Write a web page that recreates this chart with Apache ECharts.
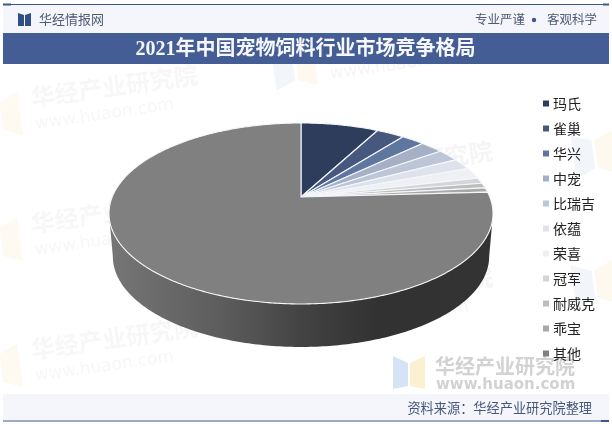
<!DOCTYPE html>
<html><head><meta charset="utf-8">
<style>html,body{margin:0;padding:0;background:#fff}#c{width:612px;height:425px}</style>
<script src="https://cdn.jsdelivr.net/npm/echarts@6/dist/echarts.min.js"></script>
</head><body><div id="c"></div>
<script>
const brands = ['玛氏','雀巢','华兴','中宠','比瑞吉','依蕴','荣喜','冠军','耐威克','乖宝','其他'];
const shares = [7.8,2.8,2.3,2.3,2.2,2.0,2.0,1.0,0.9,0.8,75.9];
const colors = ['#2f3d5c','#47587f','#5f769f','#a5b0c6','#bcc6d7','#dde2ec','#eef0f3','#d3d5d8','#bdbdbd','#a8a8a8','#808080'];
const titleText = '2021年中国宠物饲料行业市场竞争格局';
const sourceText = '资料来源：华经产业研究院整理';

const chart = echarts.init(document.getElementById('c'), null, {renderer:'canvas'});
const total = shares.reduce((a,b)=>a+b,0);
// perspective disc projection
const P = {cx:301, cy:197, A:188.8, B:87.5, k:0.182, depth:43, shrink:0.98};
function rim(theta, lower){
  const u=Math.sin(theta), v=-Math.cos(theta), w=1-P.k*v;
  const s=lower?P.shrink:1, d=lower?P.depth:0;
  return [P.cx+s*P.A*u/w, P.cy+P.B*v/w+d];
}
function toAngle(x){return x/total*2*Math.PI;}
function renderSlice(params, api){
  const a0=toAngle(api.value(0)), a1=toAngle(api.value(0)+api.value(1));
  const pts=[[P.cx,P.cy]], n=Math.max(4,Math.ceil((a1-a0)/0.01));
  for(let i=0;i<=n;i++) pts.push(rim(a0+(a1-a0)*i/n,false));
  return {type:'polygon',shape:{points:pts},
    style:{fill:api.visual('color'),stroke:'#f4f6fa',lineWidth:1.1,lineJoin:'round'}};
}
function renderWall(params, api){
  const t0=Math.acos(-P.k), t1=2*Math.PI-t0, n=200, pts=[];
  for(let i=0;i<=n;i++) pts.push(rim(t0+(t1-t0)*i/n,true));
  for(let i=n;i>=0;i--) pts.push(rim(t0+(t1-t0)*i/n,false));
  return {type:'polygon',shape:{points:pts},style:{
    fill:new echarts.graphic.LinearGradient(0,0,1,0,[
      {offset:0,color:'#767676'},{offset:0.3,color:'#5c5c5c'},{offset:0.5,color:'#434343'},
      {offset:0.7,color:'#323232'},{offset:1,color:'#333333'}])}};
}
let cum=0;
const series=[{type:'custom',name:'wall',coordinateSystem:'none',silent:true,z:2,data:[[0,0]],renderItem:renderWall,animation:false}];
brands.forEach((b,i)=>{
  series.push({type:'custom',name:b,coordinateSystem:'none',z:3,silent:true,animation:false,
    itemStyle:{color:colors[i]},data:[[cum,shares[i]]],renderItem:renderSlice});
  cum+=shares[i];
});
function tile(x,y,op){
  const r=8*Math.PI/180;
  return {type:'group',x:x,y:y,rotation:r,silent:true,children:[
    {type:'polygon',shape:{points:[[-52,-22],[-32,-14],[-32,14],[-52,22]]},style:{fill:'#dfe8f6',opacity:op}},
    {type:'polygon',shape:{points:[[-29,-14],[-10,-22],[-10,22],[-29,14]]},style:{fill:'#fbf0d4',opacity:op}},
    {type:'text',x:3,y:-14,style:{text:'华经产业研究院',font:'bold 24px "Noto Sans CJK SC"',fill:'#e6e6e6',opacity:op,textVerticalAlign:'middle'}},
    {type:'text',x:3,y:13,style:{text:'www.huaon.com',font:'17px "DejaVu Sans"',fill:'#e6e6e6',opacity:op,textVerticalAlign:'middle'}}
  ]};
}
const bookL=[[18,13],[24,15],[24,26],[18,26]], bookR=[[31,13],[25,15],[25,26],[31,26]];
const graphic=[
  {type:'rect',shape:{x:0,y:0,width:612,height:425},style:{fill:'#ffffff'},silent:true},
  tile(30,112,.3),tile(30,238,.3),tile(30,364,.3),
  tile(325,62,.4),tile(325,188,.4),tile(325,314,.4),
  tile(625,150,.4),tile(625,280,.4),
  // strong watermark
  {type:'polygon',shape:{points:[[393,356],[408,363],[408,386],[393,389]]},style:{fill:'#d6e3f4'}},
  {type:'polygon',shape:{points:[[410,363],[425,356],[425,389],[410,386]]},style:{fill:'#fbf0d0'}},
  {type:'text',x:435,y:366,style:{text:'华经产业研究院',font:'bold 20px "Noto Sans CJK SC"',fill:'#d2d2d2',textVerticalAlign:'middle'}},
  {type:'text',x:436,y:385,style:{text:'www.huaon.com',font:'bold 15px "DejaVu Sans"',fill:'#d2d2d2',textVerticalAlign:'middle'}},
  // header
  {type:'rect',shape:{x:3,y:5,width:606,height:28},style:{fill:'#f4f6fb'}},
  {type:'rect',shape:{x:3,y:4,width:606,height:1},style:{fill:'#3e5689'}},
  {type:'rect',shape:{x:3,y:3.5,width:8,height:2},style:{fill:'#3e5689'}},
  {type:'rect',shape:{x:603,y:3.5,width:6,height:2},style:{fill:'#3e5689'}},
  {type:'polygon',shape:{points:bookL},style:{fill:'#2f4f86'}},
  {type:'polygon',shape:{points:bookR},style:{fill:'#2f4f86'}},
  {type:'text',x:39,y:19.5,style:{text:'华经情报网',font:'13px "Noto Sans CJK SC"',fill:'#4f5a75',textVerticalAlign:'middle'}},
  {type:'text',x:475,y:19.5,style:{text:'专业严谨',font:'12.5px "Noto Sans CJK SC"',fill:'#4f5a75',textVerticalAlign:'middle'}},
  {type:'circle',shape:{cx:534,cy:20,r:2.2},style:{fill:'#3e5689'}},
  {type:'text',x:597,y:19.5,style:{text:'客观科学',font:'12.5px "Noto Sans CJK SC"',fill:'#4f5a75',textAlign:'right',textVerticalAlign:'middle'}},
  {type:'rect',shape:{x:3,y:33,width:606,height:31},style:{fill:'#445d94'}},
  {type:'text',x:305.5,y:50,style:{text:titleText,font:'bold 20px "Liberation Serif","Noto Sans CJK SC"',fill:'#f6f7fb',textAlign:'center',textVerticalAlign:'middle'}},
  // footer
  {type:'rect',shape:{x:3,y:394,width:606,height:26},style:{fill:'#f4f6fb'}},
  {type:'rect',shape:{x:3,y:420.5,width:606,height:1},style:{fill:'#3e5689'}},
  {type:'rect',shape:{x:601,y:420,width:8,height:2},style:{fill:'#3e5689'}},
  {type:'text',x:592,y:408,style:{text:sourceText,font:'13.2px "Noto Sans CJK SC"',fill:'#46567c',textAlign:'right',textVerticalAlign:'middle'}}
];
chart.setOption({
  animation:false,
  backgroundColor:'#fff',
  legend:{orient:'vertical',left:538,top:90,icon:'rect',itemWidth:6,itemHeight:6,itemGap:8,selectedMode:false,
    data:brands,textStyle:{fontFamily:'"Noto Sans CJK SC"',fontSize:14,color:'#222',padding:[0,0,0,-1],lineHeight:17}},
  graphic:{elements:graphic},
  series:series
});
</script></body></html>
